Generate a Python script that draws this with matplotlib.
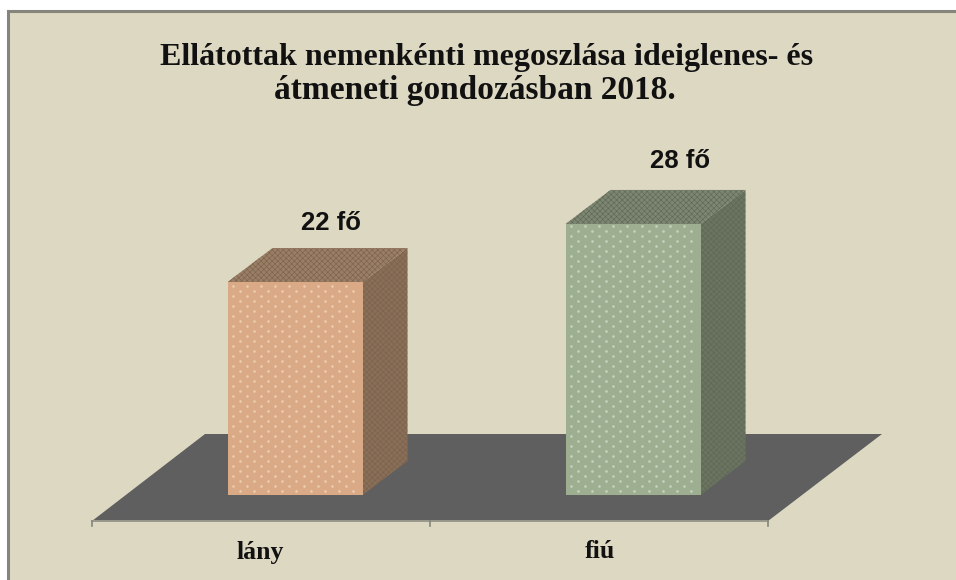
import numpy as np
import matplotlib
matplotlib.use("Agg")
import matplotlib.pyplot as plt
from matplotlib.patches import Polygon, Rectangle

categories = ["lány", "fiú"]
values = [22, 28]
value_labels = ["22 fő", "28 fő"]
title_lines = ["Ellátottak nemenkénti megoszlása ideiglenes- és", "átmeneti gondozásban 2018."]

W, H = 956, 580
# axis scale: one category = 338 px, one person = 9.68 px
CAT_PX, VAL_PX = 338.0, 9.68
X0_PX, Y0_PX = 126.0, 495.0   # position of category edge 0 / value 0, at bar depth

plt.rcParams["hatch.linewidth"] = 0.4
fig = plt.figure(figsize=(W / 100, H / 100), dpi=100, facecolor="white")
ax = fig.add_axes([0, 0, 1, 1])
ax.set_xlim(-X0_PX / CAT_PX, (W - X0_PX) / CAT_PX)
ax.set_ylim(-(H - Y0_PX) / VAL_PX, Y0_PX / VAL_PX)
ax.axis("off")

# offsets in data units
def dx(px): return px / CAT_PX
def dy(px): return px / VAL_PX
def xp(px): return (px - X0_PX) / CAT_PX
def yp(px): return (Y0_PX - px) / VAL_PX

# chart area background: grey frame on the left and top only
ax.add_patch(Rectangle((xp(7), yp(580)), dx(949), dy(570), fc="#DDD8C2", ec="none", zorder=0))
ax.plot([xp(7.5), xp(7.5), xp(956)], [yp(580), yp(10.5), yp(10.5)], color="#85857C", lw=2.2,
        solid_joinstyle="miter", zorder=1)

# floor
floor_front, floor_back = -dy(26), dy(61)
ax.add_patch(Polygon([(-dx(34), floor_front), (2 - dx(34), floor_front),
                      (2 + dx(80), floor_back), (dx(79), floor_back)],
                     closed=True, fc="#5F5F5F", ec="none", zorder=1))
# category axis
ax.plot([-dx(34), 2 - dx(34)], [floor_front, floor_front], color="#9A9A8C", lw=1.4, zorder=2)
for t in range(3):
    ax.plot([t - dx(34)] * 2, [floor_front, floor_front - dy(5)], color="#85857C", lw=1.2, zorder=2)

bar_w = 135 / CAT_PX
depth_x, depth_y = dx(45), dy(34)
styles = [
    dict(front="#DAA985", side="#8A6F58", top="#9A7E65", dot="#FBE6CC", fine="#7A614B"),
    dict(front="#9DAE91", side="#6B7361", top="#7C8672", dot="#E2ECD8", fine="#5E6654"),
]
label_dx = [36, 47]
label_dy = [59, 63]
cat_dx = [-35, -33]
for i, (v, s) in enumerate(zip(values, styles)):
    l = i + 0.5 - bar_w / 2
    r = l + bar_w
    ax.add_patch(Polygon([(r, 0), (r + depth_x, depth_y), (r + depth_x, v + depth_y), (r, v)],
                         closed=True, fc=s["side"], ec=s["fine"], hatch="xxxxxx", lw=0, zorder=3))
    ax.add_patch(Polygon([(l, v), (r, v), (r + depth_x, v + depth_y), (l + depth_x, v + depth_y)],
                         closed=True, fc=s["top"], ec=s["fine"], hatch="xxxxxx", lw=0, zorder=3))
    ax.add_patch(Rectangle((l, 0), bar_w, v, fc=s["front"], ec="none", zorder=4))
    # staggered dot texture of the front face, laid out within the bar
    gx, gy = np.meshgrid(np.arange(dx(5), bar_w - dx(3), dx(14.2)),
                         np.arange(dy(4), v - dy(2), dy(5.0)))
    row = np.round(gy / dy(5.0)).astype(int)
    gx = gx + (row % 2) * dx(7.1)
    keep = gx < bar_w - dx(2)
    ax.scatter(l + gx[keep], gy[keep], s=3.6, c=s["dot"], alpha=0.6, linewidths=0, zorder=5)
    ax.text(i + 0.5 + dx(label_dx[i]), v + dy(label_dy[i]), value_labels[i], ha="center", va="center",
            family="Liberation Sans", weight="bold", fontsize=18.5, color="#111111", zorder=6)
    ax.text(i + 0.5 + dx(cat_dx[i]), yp(552), categories[i], ha="center", va="center",
            family="Liberation Serif", weight="bold", fontsize=18.5, color="#111111", zorder=6)

ax.text(xp(487), yp(57), title_lines[0], ha="center", va="center", family="Liberation Serif",
        weight="bold", fontsize=23.0, color="#111111", zorder=6)
ax.text(xp(475), yp(90), title_lines[1], ha="center", va="center", family="Liberation Serif",
        weight="bold", fontsize=24.0, color="#111111", zorder=6)

fig.savefig("out.png", dpi=100, facecolor="white")
